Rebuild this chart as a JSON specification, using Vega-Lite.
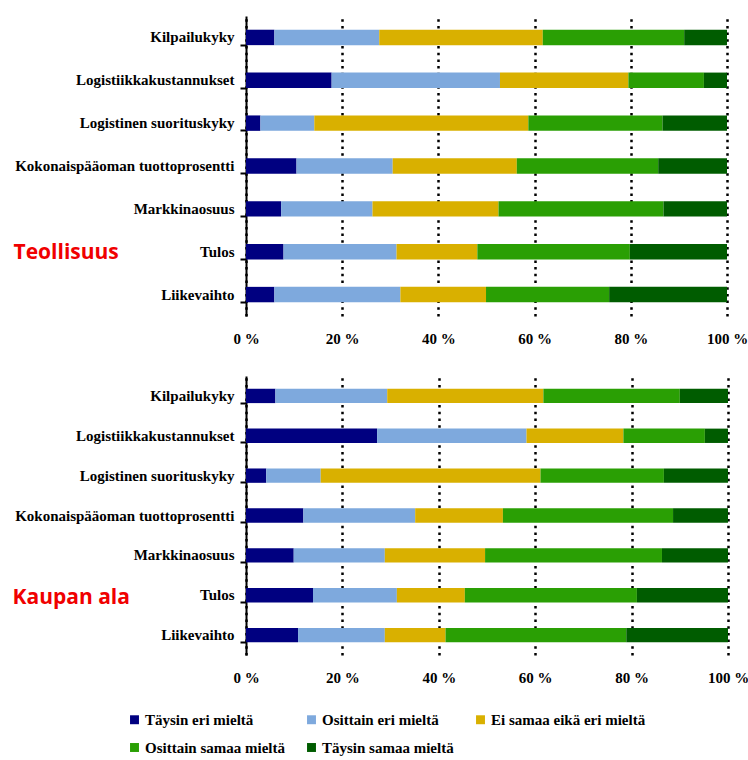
{
  "$schema": "https://vega.github.io/schema/vega-lite/v6.json",
  "padding": {"left": 12, "top": 16, "right": 10, "bottom": 5},
  "background": "white",
  "datasets": {
    "vastaukset": [
      {"vastaus":"Täysin eri mieltä","jarjestys":1},
      {"vastaus":"Osittain eri mieltä","jarjestys":2},
      {"vastaus":"Ei samaa eikä eri mieltä","jarjestys":3},
      {"vastaus":"Osittain samaa mieltä","jarjestys":4},
      {"vastaus":"Täysin samaa mieltä","jarjestys":5}
    ]
  },
  "data": {"values": [
    {"panel":"Teollisuus","kohde":"Kilpailukyky","vastaus":"Täysin eri mieltä","osuus":5.9},
    {"panel":"Teollisuus","kohde":"Kilpailukyky","vastaus":"Osittain eri mieltä","osuus":21.8},
    {"panel":"Teollisuus","kohde":"Kilpailukyky","vastaus":"Ei samaa eikä eri mieltä","osuus":34.0},
    {"panel":"Teollisuus","kohde":"Kilpailukyky","vastaus":"Osittain samaa mieltä","osuus":29.4},
    {"panel":"Teollisuus","kohde":"Kilpailukyky","vastaus":"Täysin samaa mieltä","osuus":8.9},
    {"panel":"Teollisuus","kohde":"Logistiikkakustannukset","vastaus":"Täysin eri mieltä","osuus":17.8},
    {"panel":"Teollisuus","kohde":"Logistiikkakustannukset","vastaus":"Osittain eri mieltä","osuus":35.0},
    {"panel":"Teollisuus","kohde":"Logistiikkakustannukset","vastaus":"Ei samaa eikä eri mieltä","osuus":26.7},
    {"panel":"Teollisuus","kohde":"Logistiikkakustannukset","vastaus":"Osittain samaa mieltä","osuus":15.7},
    {"panel":"Teollisuus","kohde":"Logistiikkakustannukset","vastaus":"Täysin samaa mieltä","osuus":4.8},
    {"panel":"Teollisuus","kohde":"Logistinen suorituskyky","vastaus":"Täysin eri mieltä","osuus":3.0},
    {"panel":"Teollisuus","kohde":"Logistinen suorituskyky","vastaus":"Osittain eri mieltä","osuus":11.2},
    {"panel":"Teollisuus","kohde":"Logistinen suorituskyky","vastaus":"Ei samaa eikä eri mieltä","osuus":44.5},
    {"panel":"Teollisuus","kohde":"Logistinen suorituskyky","vastaus":"Osittain samaa mieltä","osuus":27.9},
    {"panel":"Teollisuus","kohde":"Logistinen suorituskyky","vastaus":"Täysin samaa mieltä","osuus":13.4},
    {"panel":"Teollisuus","kohde":"Kokonaispääoman tuottoprosentti","vastaus":"Täysin eri mieltä","osuus":10.5},
    {"panel":"Teollisuus","kohde":"Kokonaispääoman tuottoprosentti","vastaus":"Osittain eri mieltä","osuus":20.0},
    {"panel":"Teollisuus","kohde":"Kokonaispääoman tuottoprosentti","vastaus":"Ei samaa eikä eri mieltä","osuus":25.8},
    {"panel":"Teollisuus","kohde":"Kokonaispääoman tuottoprosentti","vastaus":"Osittain samaa mieltä","osuus":29.4},
    {"panel":"Teollisuus","kohde":"Kokonaispääoman tuottoprosentti","vastaus":"Täysin samaa mieltä","osuus":14.3},
    {"panel":"Teollisuus","kohde":"Markkinaosuus","vastaus":"Täysin eri mieltä","osuus":7.3},
    {"panel":"Teollisuus","kohde":"Markkinaosuus","vastaus":"Osittain eri mieltä","osuus":19.0},
    {"panel":"Teollisuus","kohde":"Markkinaosuus","vastaus":"Ei samaa eikä eri mieltä","osuus":26.2},
    {"panel":"Teollisuus","kohde":"Markkinaosuus","vastaus":"Osittain samaa mieltä","osuus":34.3},
    {"panel":"Teollisuus","kohde":"Markkinaosuus","vastaus":"Täysin samaa mieltä","osuus":13.2},
    {"panel":"Teollisuus","kohde":"Tulos","vastaus":"Täysin eri mieltä","osuus":7.8},
    {"panel":"Teollisuus","kohde":"Tulos","vastaus":"Osittain eri mieltä","osuus":23.5},
    {"panel":"Teollisuus","kohde":"Tulos","vastaus":"Ei samaa eikä eri mieltä","osuus":16.8},
    {"panel":"Teollisuus","kohde":"Tulos","vastaus":"Osittain samaa mieltä","osuus":31.7},
    {"panel":"Teollisuus","kohde":"Tulos","vastaus":"Täysin samaa mieltä","osuus":20.2},
    {"panel":"Teollisuus","kohde":"Liikevaihto","vastaus":"Täysin eri mieltä","osuus":5.9},
    {"panel":"Teollisuus","kohde":"Liikevaihto","vastaus":"Osittain eri mieltä","osuus":26.2},
    {"panel":"Teollisuus","kohde":"Liikevaihto","vastaus":"Ei samaa eikä eri mieltä","osuus":17.8},
    {"panel":"Teollisuus","kohde":"Liikevaihto","vastaus":"Osittain samaa mieltä","osuus":25.6},
    {"panel":"Teollisuus","kohde":"Liikevaihto","vastaus":"Täysin samaa mieltä","osuus":24.5},
    {"panel":"Kaupan ala","kohde":"Kilpailukyky","vastaus":"Täysin eri mieltä","osuus":6.1},
    {"panel":"Kaupan ala","kohde":"Kilpailukyky","vastaus":"Osittain eri mieltä","osuus":23.2},
    {"panel":"Kaupan ala","kohde":"Kilpailukyky","vastaus":"Ei samaa eikä eri mieltä","osuus":32.4},
    {"panel":"Kaupan ala","kohde":"Kilpailukyky","vastaus":"Osittain samaa mieltä","osuus":28.3},
    {"panel":"Kaupan ala","kohde":"Kilpailukyky","vastaus":"Täysin samaa mieltä","osuus":10.0},
    {"panel":"Kaupan ala","kohde":"Logistiikkakustannukset","vastaus":"Täysin eri mieltä","osuus":27.2},
    {"panel":"Kaupan ala","kohde":"Logistiikkakustannukset","vastaus":"Osittain eri mieltä","osuus":31.0},
    {"panel":"Kaupan ala","kohde":"Logistiikkakustannukset","vastaus":"Ei samaa eikä eri mieltä","osuus":20.1},
    {"panel":"Kaupan ala","kohde":"Logistiikkakustannukset","vastaus":"Osittain samaa mieltä","osuus":16.9},
    {"panel":"Kaupan ala","kohde":"Logistiikkakustannukset","vastaus":"Täysin samaa mieltä","osuus":4.8},
    {"panel":"Kaupan ala","kohde":"Logistinen suorituskyky","vastaus":"Täysin eri mieltä","osuus":4.2},
    {"panel":"Kaupan ala","kohde":"Logistinen suorituskyky","vastaus":"Osittain eri mieltä","osuus":11.3},
    {"panel":"Kaupan ala","kohde":"Logistinen suorituskyky","vastaus":"Ei samaa eikä eri mieltä","osuus":45.6},
    {"panel":"Kaupan ala","kohde":"Logistinen suorituskyky","vastaus":"Osittain samaa mieltä","osuus":25.6},
    {"panel":"Kaupan ala","kohde":"Logistinen suorituskyky","vastaus":"Täysin samaa mieltä","osuus":13.3},
    {"panel":"Kaupan ala","kohde":"Kokonaispääoman tuottoprosentti","vastaus":"Täysin eri mieltä","osuus":11.9},
    {"panel":"Kaupan ala","kohde":"Kokonaispääoman tuottoprosentti","vastaus":"Osittain eri mieltä","osuus":23.2},
    {"panel":"Kaupan ala","kohde":"Kokonaispääoman tuottoprosentti","vastaus":"Ei samaa eikä eri mieltä","osuus":18.2},
    {"panel":"Kaupan ala","kohde":"Kokonaispääoman tuottoprosentti","vastaus":"Osittain samaa mieltä","osuus":35.3},
    {"panel":"Kaupan ala","kohde":"Kokonaispääoman tuottoprosentti","vastaus":"Täysin samaa mieltä","osuus":11.4},
    {"panel":"Kaupan ala","kohde":"Markkinaosuus","vastaus":"Täysin eri mieltä","osuus":9.9},
    {"panel":"Kaupan ala","kohde":"Markkinaosuus","vastaus":"Osittain eri mieltä","osuus":18.9},
    {"panel":"Kaupan ala","kohde":"Markkinaosuus","vastaus":"Ei samaa eikä eri mieltä","osuus":20.8},
    {"panel":"Kaupan ala","kohde":"Markkinaosuus","vastaus":"Osittain samaa mieltä","osuus":36.7},
    {"panel":"Kaupan ala","kohde":"Markkinaosuus","vastaus":"Täysin samaa mieltä","osuus":13.7},
    {"panel":"Kaupan ala","kohde":"Tulos","vastaus":"Täysin eri mieltä","osuus":13.9},
    {"panel":"Kaupan ala","kohde":"Tulos","vastaus":"Osittain eri mieltä","osuus":17.4},
    {"panel":"Kaupan ala","kohde":"Tulos","vastaus":"Ei samaa eikä eri mieltä","osuus":14.1},
    {"panel":"Kaupan ala","kohde":"Tulos","vastaus":"Osittain samaa mieltä","osuus":35.7},
    {"panel":"Kaupan ala","kohde":"Tulos","vastaus":"Täysin samaa mieltä","osuus":18.9},
    {"panel":"Kaupan ala","kohde":"Liikevaihto","vastaus":"Täysin eri mieltä","osuus":10.8},
    {"panel":"Kaupan ala","kohde":"Liikevaihto","vastaus":"Osittain eri mieltä","osuus":18.0},
    {"panel":"Kaupan ala","kohde":"Liikevaihto","vastaus":"Ei samaa eikä eri mieltä","osuus":12.6},
    {"panel":"Kaupan ala","kohde":"Liikevaihto","vastaus":"Osittain samaa mieltä","osuus":37.5},
    {"panel":"Kaupan ala","kohde":"Liikevaihto","vastaus":"Täysin samaa mieltä","osuus":21.1}
  ]},
  "spacing": 30,
  "vconcat": [
    {
      "width": 481,
      "height": 300,
      "transform": [
        {"filter": "datum.panel === 'Teollisuus'"},
        {"lookup": "vastaus", "from": {"data": {"name": "vastaukset"}, "key": "vastaus", "fields": ["jarjestys"]}}
      ],
      "mark": {"type": "bar"},
      "encoding": {
        "y": {
          "field": "kohde", "type": "nominal",
          "sort": ["Kilpailukyky","Logistiikkakustannukset","Logistinen suorituskyky","Kokonaispääoman tuottoprosentti","Markkinaosuus","Tulos","Liikevaihto"],
          "scale": {"paddingInner": 0.64, "paddingOuter": 0.32},
          "axis": {"title": "Teollisuus", "titleAngle": 0, "titleX": -233, "titleY": 236, "titleAlign": "left", "titleBaseline": "middle", "titleColor": "#F00000", "titleFont": "Open Sans", "titleFontWeight": "bold", "titleFontSize": 21}
        },
        "x": {
          "field": "osuus", "type": "quantitative", "stack": "normalize",
          "axis": {"title": null, "values": [0, 0.2, 0.4, 0.6, 0.8, 1]}
        },
        "order": {"field": "jarjestys", "type": "quantitative", "sort": "ascending"},
        "color": {
          "field": "vastaus", "type": "nominal",
          "sort": ["Täysin eri mieltä","Osittain eri mieltä","Ei samaa eikä eri mieltä","Osittain samaa mieltä","Täysin samaa mieltä"],
          "scale": {"domain": ["Täysin eri mieltä","Osittain eri mieltä","Ei samaa eikä eri mieltä","Osittain samaa mieltä","Täysin samaa mieltä"], "range": ["#000080","#7EA9DD","#D9B000","#2A9F04","#005C00"]},
          "legend": {"title": null, "orient": "none", "legendX": -119, "legendY": 696, "direction": "horizontal", "columns": 3}
        }
      }
    },
    {
      "width": 482,
      "height": 279,
      "transform": [
        {"filter": "datum.panel === 'Kaupan ala'"},
        {"lookup": "vastaus", "from": {"data": {"name": "vastaukset"}, "key": "vastaus", "fields": ["jarjestys"]}}
      ],
      "mark": {"type": "bar"},
      "encoding": {
        "y": {
          "field": "kohde", "type": "nominal",
          "sort": ["Kilpailukyky","Logistiikkakustannukset","Logistinen suorituskyky","Kokonaispääoman tuottoprosentti","Markkinaosuus","Tulos","Liikevaihto"],
          "scale": {"paddingInner": 0.64, "paddingOuter": 0.32},
          "axis": {"title": "Kaupan ala", "titleAngle": 0, "titleX": -234, "titleY": 221, "titleAlign": "left", "titleBaseline": "middle", "titleColor": "#F00000", "titleFont": "Open Sans", "titleFontWeight": "bold", "titleFontSize": 21}
        },
        "x": {
          "field": "osuus", "type": "quantitative", "stack": "normalize",
          "axis": {"title": null, "values": [0, 0.2, 0.4, 0.6, 0.8, 1]}
        },
        "order": {"field": "jarjestys", "type": "quantitative", "sort": "ascending"},
        "color": {
          "field": "vastaus", "type": "nominal",
          "sort": ["Täysin eri mieltä","Osittain eri mieltä","Ei samaa eikä eri mieltä","Osittain samaa mieltä","Täysin samaa mieltä"],
          "scale": {"domain": ["Täysin eri mieltä","Osittain eri mieltä","Ei samaa eikä eri mieltä","Osittain samaa mieltä","Täysin samaa mieltä"], "range": ["#000080","#7EA9DD","#D9B000","#2A9F04","#005C00"]}
        }
      }
    }
  ],
  "config": {
    "view": {"stroke": null},
    "font": "Liberation Serif",
    "axisX": {
      "domain": false, "ticks": false,
      "labelExpr": "round(datum.value * 100) + ' %'",
      "labelFont": "Liberation Serif", "labelFontWeight": "bold", "labelFontSize": 15, "labelColor": "black",
      "labelPadding": 15, "labelFlush": false,
      "grid": true, "gridColor": "black", "gridWidth": 2.5, "gridDash": [2.5, 4.2], "gridOpacity": 1
    },
    "axisY": {
      "domain": true, "domainColor": "black", "domainWidth": 2,
      "ticks": true, "tickColor": "black", "tickWidth": 2, "tickSize": 6, "bandPosition": 1,
      "labelFont": "Liberation Serif", "labelFontWeight": "bold", "labelFontSize": 15, "labelColor": "black",
      "labelPadding": 6, "labelLimit": 300, "grid": false, "zindex": 1
    },
    "legend": {
      "symbolType": "square", "symbolSize": 80, "symbolStrokeWidth": 0,
      "labelFont": "Liberation Serif", "labelFontWeight": "bold", "labelFontSize": 15, "labelColor": "black",
      "labelLimit": 300, "columnPadding": 19, "rowPadding": 12, "labelOffset": 3
    }
  }
}
